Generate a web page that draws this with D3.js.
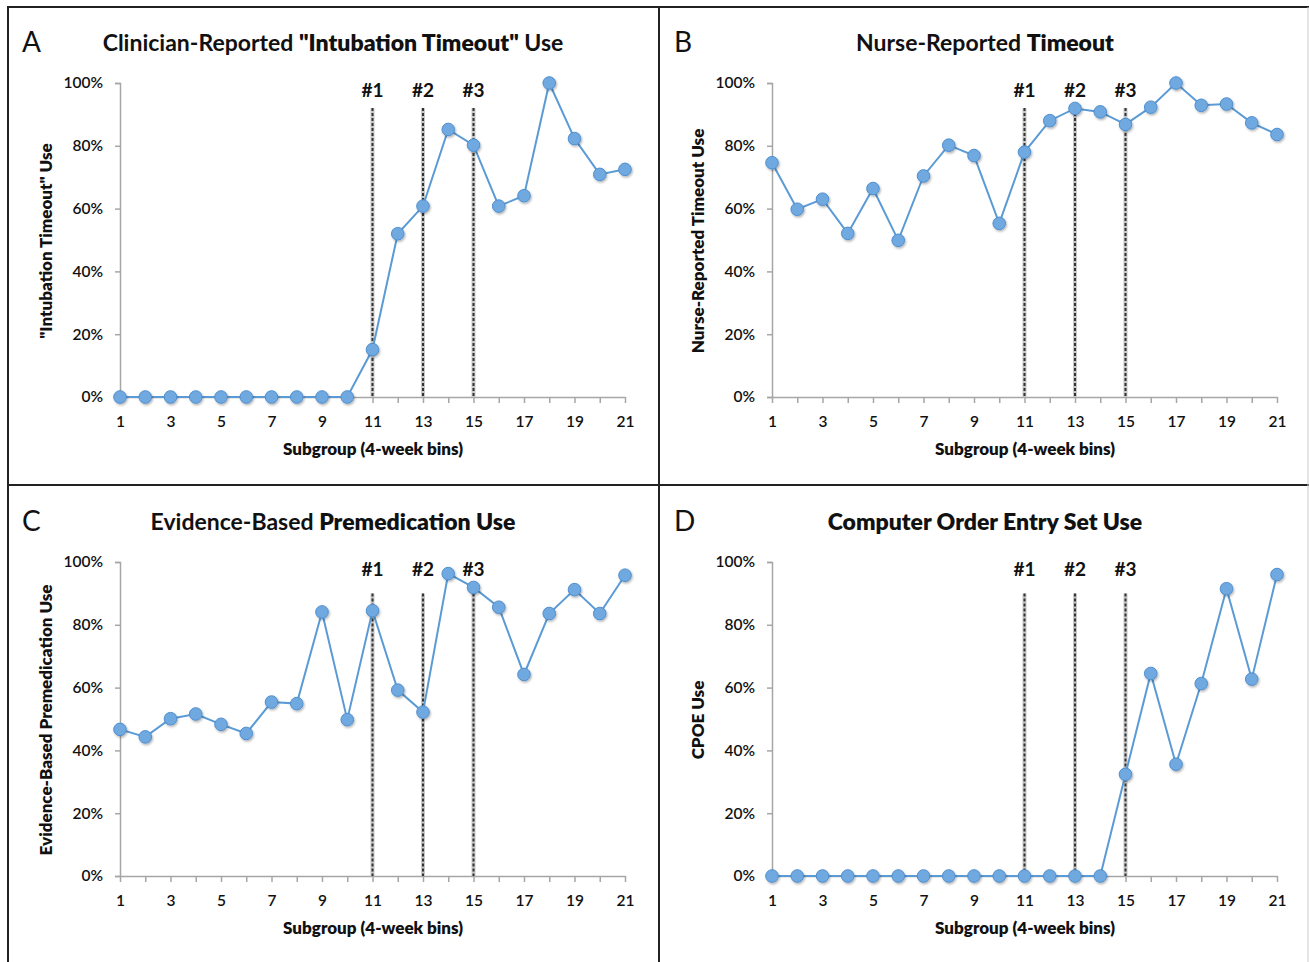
<!DOCTYPE html>
<html>
<head>
<meta charset="utf-8">
<script src="https://cdn.jsdelivr.net/npm/d3@7"></script>
<style>
  html, body { margin: 0; padding: 0; background: #fff; }
  svg { display: block; }
  text { font-family: Lato, "Open Sans", sans-serif; fill: #111; }
</style>
</head>
<body>
<svg id="chart" width="1309" height="962"></svg>
<script>
// ---------- DATA ----------
const subgroups = [1,2,3,4,5,6,7,8,9,10,11,12,13,14,15,16,17,18,19,20,21];
const xTickLabels = [1,3,5,7,9,11,13,15,17,19,21];
const yTickValues = [0,20,40,60,80,100];

const clinicianTimeout = [0,0,0,0,0,0,0,0,0,0,15.1,52.0,60.8,85.2,80.2,60.8,64.1,100,82.3,70.9,72.5];
const nurseTimeout     = [74.6,59.8,63.0,52.1,66.4,49.9,70.4,80.2,76.9,55.3,78.0,88.0,91.9,90.8,86.8,92.3,100,92.9,93.3,87.3,83.6];
const premedication    = [46.7,44.3,50.1,51.6,48.3,45.4,55.4,54.9,84.1,49.8,84.5,59.2,52.2,96.3,91.9,85.6,64.2,83.6,91.2,83.6,95.8];
const cpoe             = [0,0,0,0,0,0,0,0,0,0,0,0,0,0,32.4,64.5,35.6,61.3,91.5,62.7,96.0];

const interventionSubgroups = [11,13,15];
const interventionLabels = ["#1","#2","#3"];

const panelLetters = ["A","B","C","D"];
const panelTitles = [
  [["Clinician-Reported ",700],["\"Intubation Timeout\"",800],[" Use",700]],
  [["Nurse-Reported ",700],["Timeout",800]],
  [["Evidence-Based ",700],["Premedication Use",800]],
  [["Computer Order Entry Set Use",800]]
];
const yAxisTitles = ["\"Intubation Timeout\" Use","Nurse-Reported Timeout Use","Evidence-Based Premedication Use","CPOE Use"];
const xAxisTitle = "Subgroup (4-week bins)";
const panelSeries = [clinicianTimeout, nurseTimeout, premedication, cpoe];
const markerLineTop = [92, 92, 90, 90];

// ---------- LAYOUT ----------
const svg = d3.select("#chart");
const panelOffsets = [[0,0],[652,0],[0,479],[652,479]];

const defs = svg.append("defs");
const f = defs.append("filter").attr("id","shadow").attr("x","-50%").attr("y","-50%").attr("width","200%").attr("height","200%");
f.append("feDropShadow").attr("dx",1).attr("dy",1.5).attr("stdDeviation",1.2).attr("flood-color","#000").attr("flood-opacity",0.3);

const xScale = d3.scaleLinear().domain([1,21]).range([120,625]);
const yScale = d3.scaleLinear().domain([0,100]).range([397,83]);

panelSeries.forEach((series, i) => {
  const [ox, oy] = panelOffsets[i];
  const g = svg.append("g").attr("transform", `translate(${ox},${oy})`);

  g.append("text").attr("x",22).attr("y",52).attr("font-size",28).attr("font-weight",400)
    .attr("font-family","'Open Sans', sans-serif").text(panelLetters[i]);

  const t = g.append("text").attr("x",333).attr("y",51).attr("text-anchor","middle").attr("font-size",23);
  panelTitles[i].forEach(([s,w]) => t.append("tspan").attr("font-weight",w).text(s));

  const yAxis = g.append("g").attr("transform",`translate(${xScale(1)},0)`)
    .call(d3.axisLeft(yScale).tickValues(yTickValues).tickSize(5).tickPadding(12).tickFormat(d => d + "%"));
  yAxis.select(".domain").attr("stroke","#a6a6a6").attr("stroke-width",1.5);
  yAxis.selectAll(".tick line").attr("stroke","#a6a6a6").attr("stroke-width",1.5);
  yAxis.selectAll(".tick text").attr("font-size",15.5).attr("font-weight",600)
    .attr("font-family","Lato, sans-serif").attr("fill","#111");

  const xAxis = g.append("g").attr("transform",`translate(0,${yScale(0)})`)
    .call(d3.axisBottom(xScale).tickValues(subgroups).tickSize(6).tickSizeOuter(0).tickPadding(13)
      .tickFormat(d => xTickLabels.includes(d) ? d : ""));
  xAxis.select(".domain").attr("stroke","#a6a6a6").attr("stroke-width",1.5);
  xAxis.selectAll(".tick line").attr("stroke","#a6a6a6").attr("stroke-width",1.5);
  xAxis.selectAll(".tick text").attr("font-size",15.5).attr("font-weight",600)
    .attr("font-family","Lato, sans-serif").attr("fill","#111");

  g.append("text").attr("x",373).attr("y",455).attr("text-anchor","middle")
    .attr("font-size",17).attr("font-weight",800).text(xAxisTitle);
  g.append("text").attr("transform",`translate(52,241) rotate(-90)`).attr("text-anchor","middle")
    .attr("font-size",17).attr("font-weight",800).text(yAxisTitles[i]);

  interventionSubgroups.forEach((s, k) => {
    g.append("line").attr("x1",xScale(s)).attr("x2",xScale(s))
      .attr("y1",yScale(markerLineTop[i])).attr("y2",yScale(0))
      .attr("stroke","#c8c8c8").attr("stroke-width",4);
    g.append("line").attr("x1",xScale(s)).attr("x2",xScale(s))
      .attr("y1",yScale(markerLineTop[i])).attr("y2",yScale(0))
      .attr("stroke","#333").attr("stroke-width",2).attr("stroke-dasharray","3,2");
    g.append("text").attr("x",xScale(s)).attr("y",97).attr("text-anchor","middle")
      .attr("font-size",19).attr("font-weight",700).text(interventionLabels[k]);
  });

  const line = d3.line().x((d,j) => xScale(subgroups[j])).y(d => yScale(d));
  g.append("path").datum(series).attr("d",line).attr("fill","none")
    .attr("stroke","#5b9bd5").attr("stroke-width",2);

  g.selectAll("circle.pt").data(series).join("circle").attr("class","pt")
    .attr("cx",(d,j) => xScale(subgroups[j])).attr("cy",d => yScale(d)).attr("r",6.3)
    .attr("fill","#70a8e0").attr("stroke","#4f8fcf").attr("stroke-width",1)
    .attr("filter","url(#shadow)");
});

const frame = svg.append("g").attr("stroke","#222").attr("stroke-width",2).attr("fill","none");
frame.append("line").attr("x1",7).attr("x2",1309).attr("y1",7).attr("y2",7);
frame.append("line").attr("x1",8).attr("x2",8).attr("y1",6).attr("y2",962);
frame.append("line").attr("x1",659).attr("x2",659).attr("y1",6).attr("y2",962);
frame.append("line").attr("x1",7).attr("x2",1309).attr("y1",485).attr("y2",485);
svg.append("line").attr("x1",1308).attr("x2",1308).attr("y1",7).attr("y2",962)
  .attr("stroke","#ccc").attr("stroke-width",1);
</script>
</body>
</html>
